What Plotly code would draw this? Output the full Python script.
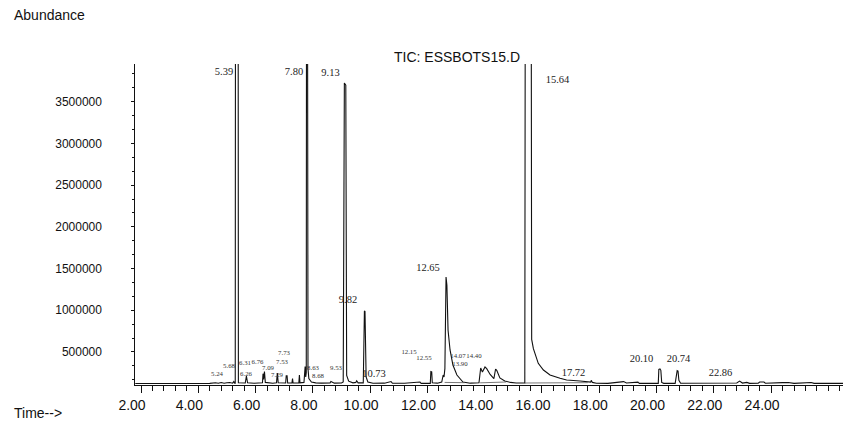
import plotly.graph_objects as go

# ---- chromatogram vertices (retention time in min, abundance) ----
tic_points = [
    (1.80, 122000), (2.60, 121000), (3.20, 124000), (3.70, 126000), (3.90, 123000),
    (4.20, 128000), (4.40, 124000), (4.60, 131000), (4.70, 126000), (4.80, 133000),
    (4.90, 126000), (5.00, 131000), (5.10, 134000), (5.20, 126000), (5.24, 145000),
    (5.27, 125000),
    (5.29, 125000), (5.30, 6000000), (5.39, 6000000), (5.40, 130000), (5.50, 126000),
    (5.64, 128000), (5.68, 212000), (5.72, 130000), (5.95, 125000), (6.05, 128000),
    (6.24, 130000), (6.26, 240000), (6.28, 170000), (6.31, 265000), (6.34, 135000),
    (6.60, 125000), (6.73, 130000), (6.76, 248000), (6.79, 130000),
    (7.05, 128000), (7.07, 215000), (7.10, 215000), (7.12, 128000),
    (7.27, 128000), (7.29, 182000), (7.31, 128000),
    (7.51, 128000), (7.53, 224000), (7.55, 130000),
    (7.69, 135000), (7.73, 324000), (7.75, 200000), (7.77, 250000),
    (7.78, 6000000), (7.81, 6000000), (7.83, 300000), (7.86, 180000), (7.95, 140000),
    (8.10, 130000), (8.30, 126000), (8.60, 128000), (8.63, 145000), (8.68, 140000),
    (8.75, 126000), (9.00, 128000), (9.06, 140000), (9.10, 3725000), (9.15, 3700000),
    (9.18, 220000), (9.25, 150000), (9.40, 130000), (9.50, 135000), (9.53, 155000),
    (9.58, 130000), (9.76, 130000), (9.79, 960000), (9.80, 992000), (9.82, 985000),
    (9.86, 200000), (9.92, 140000), (10.10, 125000), (10.50, 126000), (10.73, 145000),
    (10.78, 125000), (11.20, 125000), (11.74, 140000), (11.78, 124000),
    (12.10, 124000), (12.12, 264000), (12.15, 260000), (12.17, 130000),
    (12.35, 126000), (12.50, 140000), (12.55, 224000), (12.58, 200000), (12.61, 300000),
    (12.65, 1399000), (12.68, 1300000), (12.72, 764000), (12.79, 524000), (12.89, 344000),
    (13.03, 224000), (13.24, 140000), (13.50, 126000), (13.80, 130000),
    (13.86, 308000), (13.92, 260000), (14.01, 320000), (14.07, 300000), (14.19, 230000),
    (14.32, 180000), (14.38, 296000), (14.42, 280000), (14.53, 188000), (14.70, 152000),
    (14.90, 135000), (15.10, 128000), (15.40, 128000), (15.42, 6000000),
    (15.62, 6000000), (15.64, 650000), (15.70, 540000), (15.76, 484000), (15.87, 364000),
    (16.05, 284000), (16.28, 224000), (16.63, 185000), (16.86, 164000), (17.33, 152000),
    (17.70, 138000), (17.72, 160000), (17.76, 135000), (17.90, 125000), (18.30, 124000),
    (18.85, 145000), (18.95, 128000), (19.35, 138000), (19.40, 124000),
    (20.06, 124000), (20.08, 290000), (20.12, 296000), (20.15, 280000), (20.18, 135000),
    (20.25, 124000), (20.65, 124000), (20.68, 212000), (20.70, 195000), (20.72, 276000),
    (20.75, 270000), (20.78, 160000), (20.84, 125000), (21.40, 126000), (21.80, 130000),
    (22.20, 124000), (22.80, 128000), (22.90, 150000), (23.00, 127000), (23.15, 135000),
    (23.25, 124000), (23.55, 126000), (23.60, 140000), (23.75, 140000), (23.80, 125000),
    (24.40, 132000), (24.60, 134000), (24.80, 124000), (25.40, 134000), (25.50, 124000),
    (26.20, 130000), (26.51, 124000),
]
rt = [p[0] for p in tic_points]
abund = [p[1] for p in tic_points]

# integration baselines drawn under integrated peaks
base_rt = [12.60, 13.30, None, 13.84, 14.75, None, 15.40, 17.60]
base_ab = [135000, 132000, None, 130000, 140000, None, 128000, 132000]

# retention-time labels of the peaks
big_labels = ["5.39", "7.80", "9.13", "15.64", "12.65", "9.82", "10.73",
              "17.72", "20.10", "20.74", "22.86"]
big_x = [4.898, 7.342, 8.617, 16.543, 12.021, 9.228, 10.135,
         17.101, 19.476, 20.768, 22.234]
big_y = [3857000, 3857000, 3845000, 3761000, 1507000, 1123000, 236000,
         248000, 416000, 416000, 248000]

small_labels = ["5.24", "5.68", "6.26", "6.31", "6.76", "7.09", "7.29", "7.53", "7.73",
                "8.63", "8.68", "9.53", "12.15", "12.55", "14.07", "14.40", "13.90"]
small_x = [4.654, 5.073, 5.666, 5.631, 6.068, 6.434, 6.749, 6.923, 6.993,
           8.006, 8.180, 8.809, 11.358, 11.881, 13.068, 13.627, 13.138]
small_y = [236000, 332000, 236000, 368000, 380000, 308000, 224000, 380000, 488000,
           308000, 212000, 308000, 500000, 428000, 452000, 452000, 356000]

x_ticks = [2, 4, 6, 8, 10, 12, 14, 16, 18, 20, 22, 24]
y_ticks = [500000, 1000000, 1500000, 2000000, 2500000, 3000000, 3500000]

SANS = "Liberation Sans, Arial, sans-serif"
SERIF = "Liberation Serif, Times New Roman, serif"
NBSP = "\u00a0"

fig = go.Figure()
fig.add_trace(go.Scatter(x=rt, y=abund, mode="lines",
                         line=dict(color="#111111", width=1.1), hoverinfo="skip"))
fig.add_trace(go.Scatter(x=base_rt, y=base_ab, mode="lines",
                         line=dict(color="#555555", width=0.8), hoverinfo="skip"))
fig.add_trace(go.Scatter(x=big_x, y=big_y, mode="text", text=big_labels,
                         textposition="middle center", cliponaxis=False,
                         textfont=dict(family=SERIF, size=10.5, color="#222222"),
                         hoverinfo="skip"))
fig.add_trace(go.Scatter(x=small_x, y=small_y, mode="text", text=small_labels,
                         textposition="middle center", cliponaxis=False,
                         textfont=dict(family=SERIF, size=6.8, color="#333333"),
                         hoverinfo="skip"))

fig.update_layout(
    width=843, height=433,
    margin=dict(l=135, r=0, t=64, b=48),
    paper_bgcolor="white", plot_bgcolor="white",
    showlegend=False, hovermode=False,
    font=dict(family=SANS, color="#111111"),
    xaxis=dict(
        range=[1.79, 26.51], showgrid=False, zeroline=False,
        showline=True, linecolor="#111111", linewidth=1,
        ticks="outside", ticklen=7, tickcolor="#111111",
        tickmode="array", tickvals=x_ticks,
        ticktext=[f"{v:.2f}" for v in x_ticks],
        tickfont=dict(family=SANS, size=14, color="#111111"),
        ticklabelshift=-9,
        minor=dict(ticks="outside", ticklen=5, tick0=2, dtick=0.4, tickcolor="#111111"),
    ),
    yaxis=dict(
        range=[104000, 3953000], showgrid=False, zeroline=False,
        showline=True, linecolor="#111111", linewidth=1,
        ticks="outside", ticklen=3, tickcolor="#111111",
        tickmode="array", tickvals=y_ticks,
        ticktext=[str(v) + NBSP * 8 for v in y_ticks],
        tickfont=dict(family=SANS, size=12, color="#111111"),
        minor=dict(ticks="outside", ticklen=2, tick0=0, dtick=500000 / 3, tickcolor="#111111"),
    ),
    annotations=[
        dict(text="TIC: ESSBOTS15.D", xref="paper", yref="paper", x=0.455, y=1.0,
             xanchor="center", yanchor="bottom", yshift=-3, showarrow=False,
             font=dict(family=SANS, size=14, color="#111111")),
        dict(text="Abundance", xref="paper", yref="paper", x=-0.1737, y=1.1526,
             xanchor="left", yanchor="middle", showarrow=False,
             font=dict(family=SANS, size=14, color="#111111")),
        dict(text="Time-->", xref="paper", yref="paper", x=-0.1737, y=-0.0872,
             xanchor="left", yanchor="middle", showarrow=False,
             font=dict(family=SANS, size=14, color="#111111")),
    ],
)

fig.write_html("out.html",
               config={"displayModeBar": False, "staticPlot": True},
               post_script="document.body.style.margin='0px';document.body.style.padding='0px';")
